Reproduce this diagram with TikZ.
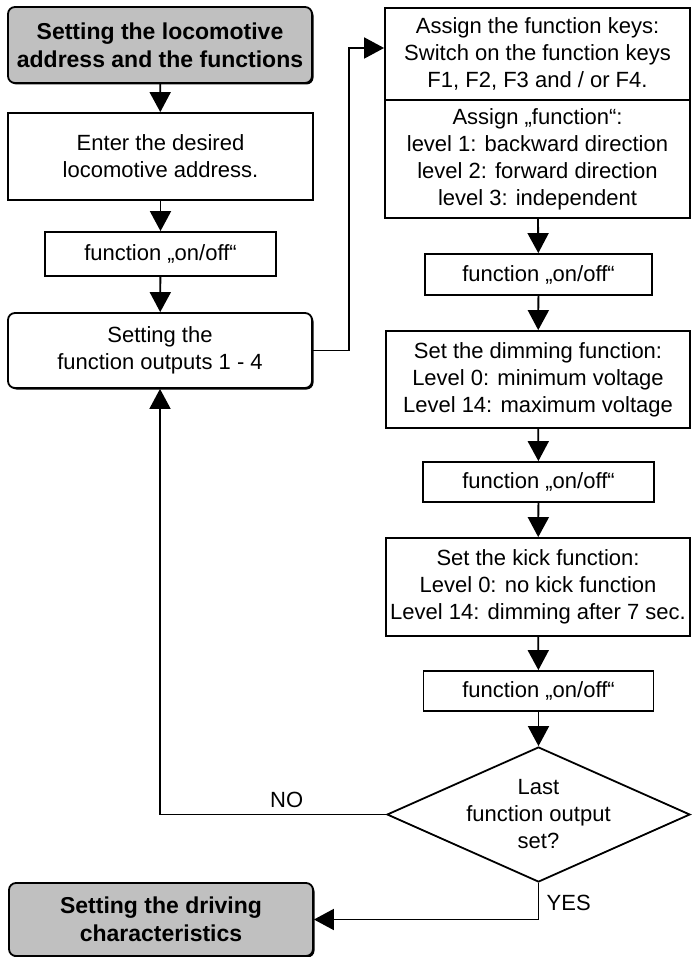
\documentclass[tikz,border=0pt]{standalone}
\usepackage{fontspec}
\setmainfont{Liberation Sans}
\usetikzlibrary{arrows.meta,shapes.geometric,shadows}
\definecolor{termgray}{RGB}{192,192,192}
\begin{document}
\begin{tikzpicture}[x=1pt,y=-1pt,
  font=\fontsize{22}{27}\selectfont,
  box/.style={draw,line width=1.8pt,align=center,inner sep=0pt,fill=white},
  rbox/.style={box,rounded corners=7pt,drop shadow={shadow xshift=1.5pt,shadow yshift=-1.5pt,fill=black,opacity=1}},
  gbox/.style={rbox,fill=termgray,font=\fontsize{23}{28}\selectfont\bfseries},
  arr/.style={line width=1.8pt,-{Triangle[width=21pt,length=20pt]}},
  decision/.style={draw,diamond,line width=1.8pt,inner sep=0pt,minimum width=303pt,minimum height=135pt}
]
\useasboundingbox (0,0) rectangle (691,957);

% left column
\node[gbox,minimum width=304pt,minimum height=76pt] (start) at (160,45) {Setting the locomotive\\address and the functions};
\node[box,minimum width=305pt,minimum height=87pt] (enter) at (160.5,156.5) {Enter the desired\\locomotive address.};
\node[box,minimum width=231pt,minimum height=44pt] (on1) at (160.5,254) {function „on/off“};
\node[rbox,minimum width=304pt,minimum height=75pt] (outputs) at (160,350.5) {Setting the\\function outputs 1 - 4};
\node[gbox,minimum width=304pt,minimum height=73pt] (finish) at (161,919.5) {Setting the driving\\characteristics};

% right column
\node[box,minimum width=305pt,minimum height=92pt] (keys) at (537.5,54) {Assign the function keys:\\Switch on the function keys\\F1, F2, F3 and / or F4.};
\node[box,minimum width=305pt,minimum height=118pt] (func) at (537.5,159) {Assign „function“:\\level 1: backward direction\\level 2: forward direction\\level 3: independent};
\node[box,minimum width=227pt,minimum height=41pt] (on2) at (538.5,274.5) {function „on/off“};
\node[box,minimum width=304pt,minimum height=97pt] (dim) at (538,379.5) {Set the dimming function:\\Level 0: minimum voltage\\Level 14: maximum voltage};
\node[box,minimum width=231pt,minimum height=40pt] (on3) at (538.5,482) {function „on/off“};
\node[box,minimum width=304pt,minimum height=98pt] (kick) at (538,587) {Set the kick function:\\Level 0: no kick function\\Level 14: dimming after 7 sec.};
\node[box,minimum width=230pt,minimum height=40pt] (on4) at (538.5,691) {function „on/off“};
\node[decision] (dec) at (538.5,814.5) {};
\node[align=center,inner sep=0pt] (dectxt) at (dec.center) {Last\\function output\\set?};

% connectors
\draw[arr] (start) -- (enter);
\draw[arr] (enter) -- (on1);
\draw[arr] (on1) -- (outputs);
\draw[arr] (outputs.east) -- ++(36pt,0) |- ([yshift=6pt]keys.west);
\draw[arr] (func) -- (on2);
\draw[arr] (on2) -- (dim);
\draw[arr] (dim) -- (on3);
\draw[arr] (on3) -- (kick);
\draw[arr] (kick) -- (on4);
\draw[arr] (on4) -- (dec);
\draw[arr] (dec.west) -| node[pos=0.22,above=3pt] (nolbl) {NO} (outputs.south);
\draw[arr] (dec.south) |- node[pos=0.27,right=4pt] (yeslbl) {YES} (finish.east);
\end{tikzpicture}
\end{document}
